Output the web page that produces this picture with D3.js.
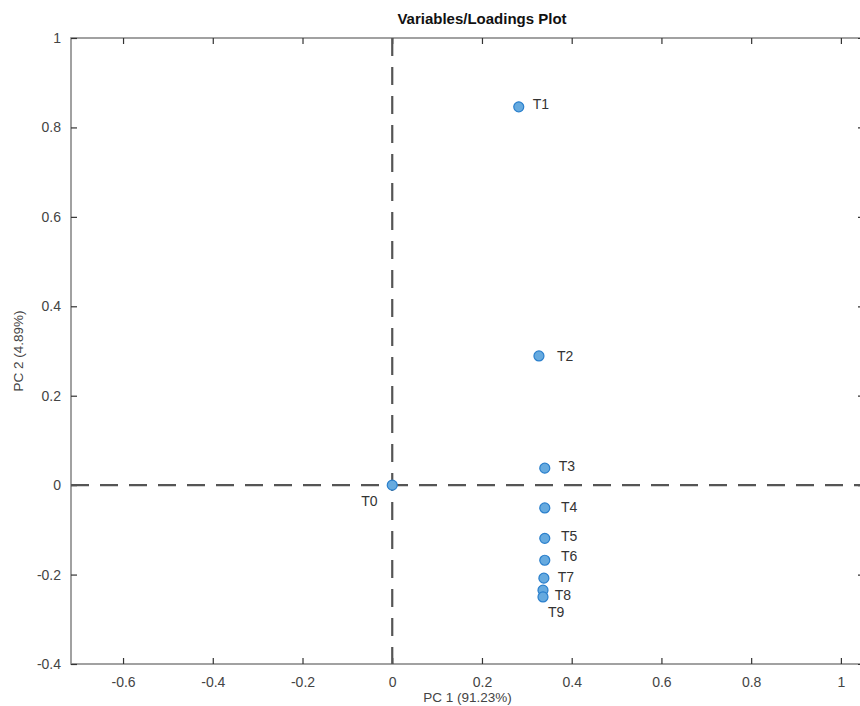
<!DOCTYPE html>
<html>
<head>
<meta charset="utf-8">
<script src="https://cdn.jsdelivr.net/npm/d3@7"></script>
<style>
  body { margin: 0; background: #fff; }
  text { font-family: "Liberation Sans", Arial, sans-serif; }
</style>
</head>
<body>
<div id="chartArea"></div>
<script>
// loadings
const varNames = ["T0", "T1", "T2", "T3", "T4", "T5", "T6", "T7", "T8", "T9"];
const pc1 = [0, 0.282, 0.327, 0.340, 0.340, 0.340, 0.340, 0.338, 0.336, 0.336];
const pc2 = [0, 0.846, 0.289, 0.038, -0.051, -0.119, -0.168, -0.208, -0.235, -0.250];
// where each label sits (data units)
const labelPc1 = [-0.069, 0.313, 0.367, 0.371, 0.376, 0.376, 0.376, 0.369, 0.362, 0.347];
const labelPc2 = [-0.036, 0.852, 0.289, 0.0425, -0.049, -0.114, -0.159, -0.206, -0.246, -0.284];

const xTicks = [-0.6, -0.4, -0.2, 0, 0.2, 0.4, 0.6, 0.8, 1];
const yTicks = [-0.4, -0.2, 0, 0.2, 0.4, 0.6, 0.8, 1];

const W = 860, H = 706;
const margin = { top: 38, right: -4, bottom: 42, left: 71 };
const width = W - margin.left - margin.right,
    height = H - margin.top - margin.bottom;

const svg = d3.select("#chartArea").append("svg")
    .attr("width", W)
    .attr("height", H);

const g = svg.append("g")
    .attr("transform", `translate(${margin.left},${margin.top})`);

const x = d3.scaleLinear().domain([-0.716, 1.0515]).range([0, width]);
const y = d3.scaleLinear().domain([-0.4, 1]).range([height, 0]);

// plain hyphen for negatives, like the original
const fmt = d => String(+d.toFixed(1));

// box
g.append("rect")
    .attr("width", width).attr("height", height)
    .style("fill", "none")
    .style("stroke", "#8a8a8a")
    .style("stroke-width", 1.6);

// ticks point inward on all four sides
const styleAxis = sel => {
    sel.select(".domain").remove();
    sel.selectAll(".tick line").style("stroke", "#333").style("stroke-width", 1.2);
    sel.selectAll(".tick text")
        .style("fill", "#444")
        .style("font-size", "14px")
        .style("font-family", "'Liberation Sans', Arial, sans-serif");
};

g.append("g")
    .attr("transform", `translate(0,${height})`)
    .call(d3.axisBottom(x).tickValues(xTicks).tickFormat(fmt).tickSizeInner(-6).tickSizeOuter(0).tickPadding(13))
    .call(styleAxis);

g.append("g")
    .call(d3.axisTop(x).tickValues(xTicks).tickFormat("").tickSizeInner(-6).tickSizeOuter(0))
    .call(styleAxis);

g.append("g")
    .call(d3.axisLeft(y).tickValues(yTicks).tickFormat(fmt).tickSizeInner(-6).tickSizeOuter(0).tickPadding(10))
    .call(styleAxis);

g.append("g")
    .attr("transform", `translate(${width},0)`)
    .call(d3.axisRight(y).tickValues(yTicks).tickFormat("").tickSizeInner(-6).tickSizeOuter(0))
    .call(styleAxis);

// zero lines
g.append("line")
    .attr("x1", x(0)).attr("x2", x(0))
    .attr("y1", 0).attr("y2", height)
    .style("stroke", "#555").style("stroke-width", 2.2)
    .style("stroke-dasharray", "18,11");

g.append("line")
    .attr("x1", 0).attr("x2", width)
    .attr("y1", y(0)).attr("y2", y(0))
    .style("stroke", "#555").style("stroke-width", 2.2)
    .style("stroke-dasharray", "18,11");

const data = varNames.map((n, i) => ({ name: n, px: pc1[i], py: pc2[i], lx: labelPc1[i], ly: labelPc2[i] }));

g.selectAll("circle.pt")
    .data(data)
    .enter().append("circle")
    .attr("class", "pt")
    .attr("cx", d => x(d.px))
    .attr("cy", d => y(d.py))
    .attr("r", 5)
    .style("fill", "#66aadf")
    .style("stroke", "#2a7fcc")
    .style("stroke-width", 1.2);

g.selectAll("text.lbl")
    .data(data)
    .enter().append("text")
    .attr("class", "lbl")
    .attr("x", d => x(d.lx))
    .attr("y", d => y(d.ly))
    .attr("dy", "0.35em")
    .style("font-size", "14px")
    .style("fill", "#333")
    .text(d => d.name);

// title and axis titles
svg.append("text")
    .attr("x", 482).attr("y", 24)
    .attr("text-anchor", "middle")
    .style("font-size", "15px")
    .style("font-weight", "bold")
    .style("fill", "#111")
    .text("Variables/Loadings Plot");

svg.append("text")
    .attr("x", margin.left + width / 2).attr("y", 702)
    .attr("text-anchor", "middle")
    .style("font-size", "13.5px")
    .style("fill", "#444")
    .text("PC 1 (91.23%)");

svg.append("text")
    .attr("transform", `translate(23,${margin.top + height / 2}) rotate(-90)`)
    .attr("text-anchor", "middle")
    .style("font-size", "13.5px")
    .style("fill", "#444")
    .text("PC 2 (4.89%)");
</script>
</body>
</html>
